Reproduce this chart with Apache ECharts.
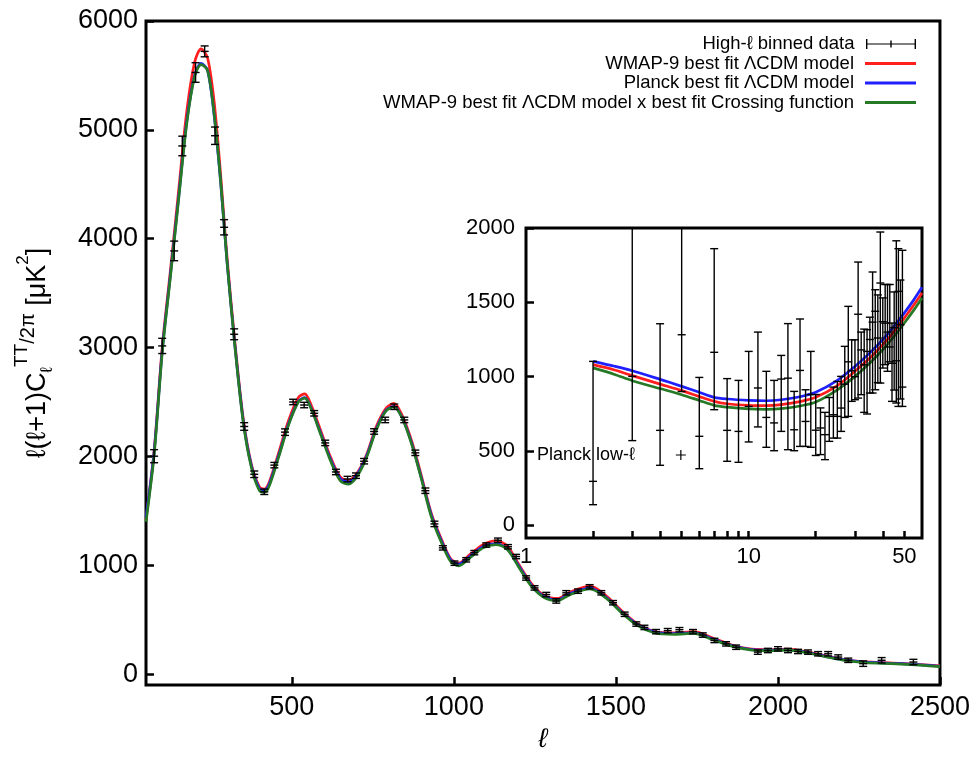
<!DOCTYPE html>
<html><head><meta charset="utf-8">
<script src="https://cdn.jsdelivr.net/npm/echarts@6/dist/echarts.min.js"></script>
<style>html,body{margin:0;padding:0;background:#fff}#c{width:973px;height:758px}</style>
</head><body><div id="c"></div>
<script>
const FONT = '"Liberation Sans", Arial, Helvetica, sans-serif';

// ---------- main panel: model curves ----------
const ell = [50,75,100,125,150,175,200,220,240,260,280,300,325,350,375,400,415,430,460,490,520,540,560,590,620,650,675,700,730,760,790,815,840,870,900,930,960,990,1015,1050,1090,1130,1165,1200,1240,1280,1320,1360,1420,1470,1520,1570,1620,1680,1740,1800,1860,1920,1980,2030,2090,2150,2200,2260,2320,2380,2440,2500];
const wmapModel = [1420,2050,3000,3700,4420,5150,5620,5744,5660,5265,4600,3830,3030,2350,1930,1720,1700,1760,2040,2330,2540,2575,2470,2230,1990,1810,1782,1840,2010,2270,2440,2487,2380,2140,1820,1480,1250,1060,1020,1100,1190,1225,1175,1010,830,720,695,755,808,720,575,455,392,378,390,330,265,230,226,230,205,165,136,114,106,99,88,75];
const planckModel = [1440,2040,2970,3660,4360,5060,5500,5610,5545,5140,4530,3790,3000,2330,1915,1705,1690,1745,2015,2300,2505,2540,2440,2205,1970,1795,1765,1830,2000,2250,2420,2460,2360,2120,1800,1465,1235,1050,1010,1085,1170,1198,1150,995,815,710,685,742,790,705,565,448,386,372,380,322,260,226,221,224,200,161,133,112,103,96,85,72];
const crossModel = [1400,2010,2950,3640,4340,5040,5490,5600,5545,5150,4540,3790,2990,2315,1900,1685,1670,1725,2000,2290,2500,2535,2435,2195,1955,1775,1745,1810,1985,2240,2415,2455,2355,2110,1790,1450,1220,1035,995,1070,1160,1190,1145,985,805,700,675,732,782,698,558,440,378,365,374,316,255,221,216,220,196,157,129,108,99,92,82,69];

// ---------- main panel: high-ell binned data ----------
const binEll = [75,100,137,162,203,231,263,291,322,353,384,415,446,479,504,538,569,603,636,672,698,723,754,788,816,847,881,912,940,966,1002,1038,1063,1100,1136,1167,1192,1223,1249,1285,1316,1347,1383,1419,1455,1491,1527,1563,1588,1624,1660,1696,1738,1768,1804,1840,1871,1938,1969,2000,2031,2062,2093,2124,2155,2186,2217,2263,2320,2418];
const binVal = [2002,3015,3888,4852,5527,5721,4946,4105,3122,2275,1836,1675,1920,2223,2500,2472,2396,2124,1857,1792,1823,1956,2229,2335,2456,2335,2033,1685,1380,1160,1019,1050,1116,1186,1230,1170,1080,883,792,731,672,747,762,802,747,656,550,460,429,390,399,408,390,359,309,278,247,202,217,232,217,208,202,187,187,157,127,96,127,111];
const binErr = [60,70,90,90,90,50,80,70,50,35,30,25,25,30,25,25,25,25,25,25,25,25,25,25,25,25,25,25,25,20,20,20,20,20,20,20,20,20,20,20,20,20,20,20,20,20,20,20,20,20,20,20,20,20,20,20,20,20,20,20,20,20,20,20,20,20,20,25,25,25];

// ---------- inset: low-ell models ----------
const lowModelEll = [2,2.5,3,4,5,6,7,8,10,12,14,17,20,25,30,35,40,45,50,55,60];
const lowWmap =   [1081,1045,1007,950,906,866,834,818,807,805,812,832,861,940,1036,1125,1215,1305,1395,1480,1563];
const lowPlanck = [1103,1070,1040,982,935,895,861,850,841,838,845,865,895,975,1069,1160,1249,1340,1429,1515,1601];
const lowCross =  [1059,1015,973,920,879,840,807,795,783,780,785,803,830,912,1002,1092,1182,1272,1361,1446,1530];

// ---------- inset: Planck low-ell data ----------
const lowEll = [2,3,4,5,6,7,8,9,10,11,12,13,14,15,16,17,18,19,20,21,22,23,24,25,26,27,28,29,30,31,32,33,34,35,36,37,38,39,40,41,42,43,44,45,46,47,48,49];
const lowVal = [296,1002,639,1282,599,1164,639,632,800,924,726,689,984,990,643,1042,699,880,640,655,610,733,744,733,789,950,1100,1040,1000,1420,1180,1080,1170,1250,1367,1440,1260,1630,1370,1360,1300,1200,1090,1330,1107,1574,1350,930];
const lowLo =  [139,570,404,900,381,778,431,424,561,662,525,502,632,509,502,531,531,525,470,476,442,565,587,587,632,726,733,834,845,856,879,760,749,890,890,912,960,957,1058,1081,1036,1100,834,910,823,800,850,800];
const lowHi =  [1103,2600,1356,2600,995,1861,987,975,1170,1300,1036,975,1143,1357,901,1388,912,1170,880,790,760,860,930,968,1002,1204,1473,1248,1248,1771,1300,1320,1316,1400,1704,1585,1550,1973,1530,1620,1620,1620,1361,1570,1914,1861,1650,1850];

// ---------- ticks ----------
const mainXTicks = [500,1000,1500,2000,2500];
const mainYTicks = [0,1000,2000,3000,4000,5000,6000];
const insetXLabels = [1,10,50];
const insetXTicks = [2,3,4,5,6,7,8,9,10,20,30,40,50];
const insetYTicks = [0,500,1000,1500,2000];

const legendNames = ['High-ℓ binned data','WMAP-9 best fit ΛCDM model','Planck best fit ΛCDM model','WMAP-9 best fit ΛCDM model x best fit Crossing function'];
const RED = '#ff1f1f', BLUE = '#2020ff', GREEN = '#267a26';

const zip = (a, b) => a.map((v, i) => [v, b[i]]);

function errRender(capHalf, ptHalf) {
  return function (params, api) {
    const x = api.value(0), v = api.value(1), lo = api.value(2), hi = api.value(3);
    const pv = api.coord([x, v]), pl = api.coord([x, lo]), ph = api.coord([x, hi]);
    const st = { stroke: '#000', lineWidth: 1.4 };
    return { type: 'group', children: [
      { type: 'line', shape: { x1: pl[0], y1: pl[1], x2: ph[0], y2: ph[1] }, style: st },
      { type: 'line', shape: { x1: pl[0] - capHalf, y1: pl[1], x2: pl[0] + capHalf, y2: pl[1] }, style: st },
      { type: 'line', shape: { x1: ph[0] - capHalf, y1: ph[1], x2: ph[0] + capHalf, y2: ph[1] }, style: st },
      { type: 'line', shape: { x1: pv[0] - ptHalf, y1: pv[1], x2: pv[0] + ptHalf, y2: pv[1] }, style: st }
    ]};
  };
}

const fmt = (v) => String(v);
const axisLabelStyle = (size) => ({ color: '#000', fontFamily: FONT, fontSize: size, formatter: fmt });
const tickStyle = { color: '#000', width: 2.5 };
const noLine = { show: false, onZero: false };

const chart = echarts.init(document.getElementById('c'), null, { renderer: 'canvas' });

const lineSeries = (name, xi, yi, data, color, z) => ({
  name, type: 'line', xAxisIndex: xi, yAxisIndex: yi, data, smooth: 0.3, showSymbol: false, symbol: 'none',
  lineStyle: { color, width: 2.7 }, itemStyle: { color }, z, silent: true, clip: true
});

const rowCenters = [44, 63.5, 83, 102.5];
const errIcon = 'path://M0,4.4h50v1.2h-50z M0,0h1.4v10h-1.4z M24.3,1.5h1.4v7h-1.4z M48.6,0h1.4v10h-1.4z';
const legends = legendNames.map((n, i) => ({
  data: [{ name: n, icon: i === 0 ? errIcon : 'rect' }],
  orient: 'vertical', align: 'right', right: 57, top: rowCenters[i] - 10,
  itemWidth: 51, itemHeight: i === 0 ? 10 : 3, padding: 0, selectedMode: false,
  textStyle: { color: '#000', fontFamily: FONT, fontSize: 18.5, lineHeight: 20, padding: [0, 6, 0, 0] }
}));
legends.push({
  data: [{ name: 'Planck low-ℓ', icon: 'path://M0,4.4h10v1.2h-10z M4.4,0h1.2v10h-1.2z' }],
  orient: 'vertical', align: 'right', left: 537, top: 445,
  itemWidth: 10, itemHeight: 10, padding: 0, selectedMode: false,
  textStyle: { color: '#000', fontFamily: FONT, fontSize: 18, lineHeight: 20, padding: [0, 36, 0, 0] }
});

chart.setOption({
  animation: false,
  backgroundColor: '#fff',
  legend: legends,
  grid: [
    { left: 146, top: 21, width: 794, height: 672, show: true, borderColor: '#000', borderWidth: 3, backgroundColor: '#fff' },
    { left: 526, top: 228, width: 396, height: 310, show: true, borderColor: '#000', borderWidth: 3, backgroundColor: '#fff', z: 3 }
  ],
  xAxis: [
    { type: 'value', gridIndex: 0, min: 50, max: 2500, position: 'bottom',
      axisLine: noLine, splitLine: { show: false },
      axisTick: { show: true, inside: true, length: 8, lineStyle: tickStyle, customValues: mainXTicks },
      axisLabel: Object.assign({ margin: 9, customValues: mainXTicks }, axisLabelStyle(27)),
      name: 'ℓ', nameLocation: 'middle', nameGap: 41,
      nameTextStyle: { color: '#000', fontFamily: FONT, fontSize: 27, fontStyle: 'italic' } },
    { type: 'log', logBase: 10, gridIndex: 1, min: 1, max: 60, position: 'bottom', z: 4,
      axisLine: noLine, splitLine: { show: false },
      axisTick: { show: true, inside: true, length: 7, lineStyle: tickStyle, customValues: insetXTicks },
      axisLabel: Object.assign({ margin: 8, customValues: insetXLabels }, axisLabelStyle(22)) }
  ],
  yAxis: [
    { type: 'value', gridIndex: 0, min: -100, max: 6000,
      axisLine: noLine, splitLine: { show: false },
      axisTick: { show: true, inside: true, length: 8, lineStyle: tickStyle, customValues: mainYTicks },
      axisLabel: Object.assign({ margin: 8, customValues: mainYTicks }, axisLabelStyle(27)),
      name: '{n|ℓ(ℓ+1)C}{sub|ℓ}{sup|TT}{mid|/2π}{n| [μK}{sup2|2}{n|]}',
      nameLocation: 'middle', nameGap: 82, nameRotate: 90,
      nameTextStyle: { color: '#000', fontFamily: FONT, rich: {
        n: { fontSize: 27, lineHeight: 52, fontFamily: FONT, color: '#000' },
        sub: { fontSize: 17, lineHeight: 17, verticalAlign: 'bottom', padding: [0, 0, 8, 0], fontFamily: FONT, color: '#000' },
        sup: { fontSize: 19, lineHeight: 19, verticalAlign: 'top', fontFamily: FONT, color: '#000' },
        mid: { fontSize: 20, lineHeight: 20, verticalAlign: 'top', padding: [6, 0, 0, 0], fontFamily: FONT, color: '#000' },
        sup2: { fontSize: 17, lineHeight: 17, verticalAlign: 'top', padding: [3, 0, 0, 0], fontFamily: FONT, color: '#000' }
      } } },
    { type: 'value', gridIndex: 1, min: -85, max: 2000, z: 4,
      axisLine: noLine, splitLine: { show: false },
      axisTick: { show: true, inside: true, length: 8, lineStyle: tickStyle, customValues: insetYTicks },
      axisLabel: Object.assign({ margin: 11, customValues: insetYTicks }, axisLabelStyle(22)) }
  ],
  series: [
    lineSeries(legendNames[1], 0, 0, zip(ell, wmapModel), RED, 2),
    lineSeries(legendNames[2], 0, 0, zip(ell, planckModel), BLUE, 3),
    lineSeries(legendNames[3], 0, 0, zip(ell, crossModel), GREEN, 4),
    { name: legendNames[0], type: 'custom', xAxisIndex: 0, yAxisIndex: 0, z: 5, clip: true,
      itemStyle: { color: '#000' }, silent: true,
      data: binEll.map((l, i) => [l, binVal[i], binVal[i] - binErr[i], binVal[i] + binErr[i]]),
      renderItem: errRender(4, 4) },
    lineSeries('low-ℓ WMAP-9', 1, 1, zip(lowModelEll, lowWmap), RED, 6),
    lineSeries('low-ℓ Planck', 1, 1, zip(lowModelEll, lowPlanck), BLUE, 7),
    lineSeries('low-ℓ Crossing', 1, 1, zip(lowModelEll, lowCross), GREEN, 8),
    { name: 'Planck low-ℓ', type: 'custom', xAxisIndex: 1, yAxisIndex: 1, z: 9, clip: true,
      itemStyle: { color: '#000' }, silent: true,
      data: lowEll.map((l, i) => [l, lowVal[i], lowLo[i], lowHi[i]]),
      renderItem: errRender(4, 4) }
  ]
});
</script></body></html>
